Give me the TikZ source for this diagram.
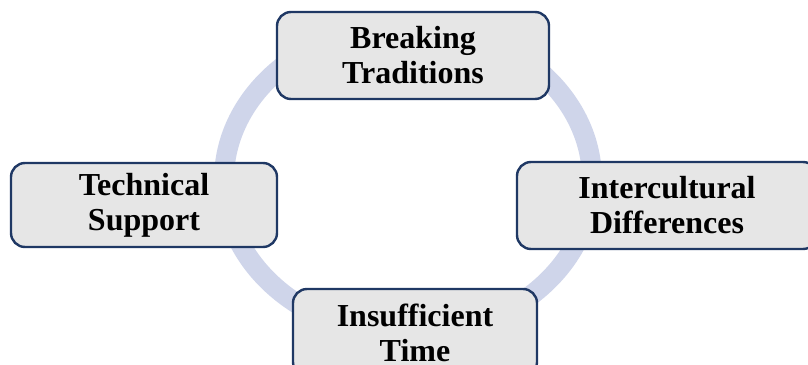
\documentclass[tikz,border=0pt]{standalone}
\usepackage{fontspec}
\setmainfont{Liberation Serif}
\definecolor{ringcol}{HTML}{CFD5EA}
\definecolor{boxfill}{HTML}{E6E6E6}
\definecolor{boxline}{HTML}{1F3864}
\tikzset{
  cyclebox/.style={draw=boxline, fill=boxfill, line width=2.4pt, rounded corners=14pt,
    align=center, inner sep=0pt, font=\bfseries\fontsize{32}{35}\selectfont},
  ringline/.style={draw=ringcol, line width=20pt}
}
\begin{document}
\begin{tikzpicture}[x=1pt,y=-1pt]
\useasboundingbox (0,0) rectangle (808,364);
\clip (0,0) rectangle (808,364);
\draw[ringline] (408,180) ellipse [x radius=184pt, y radius=155pt];
\node[cyclebox, minimum width=272pt, minimum height=87pt] (top) at (413,55.5) {Breaking\\Traditions};
\node[cyclebox, minimum width=300pt, minimum height=87pt] (right) at (667,205.5) {Intercultural\\Differences};
\node[cyclebox, minimum width=266pt, minimum height=84pt] (left) at (144,205) {Technical\\Support};
\node[cyclebox, minimum width=244pt, minimum height=87pt] (bottom) at (415,332.5) {Insufficient\\Time};
\end{tikzpicture}
\end{document}
